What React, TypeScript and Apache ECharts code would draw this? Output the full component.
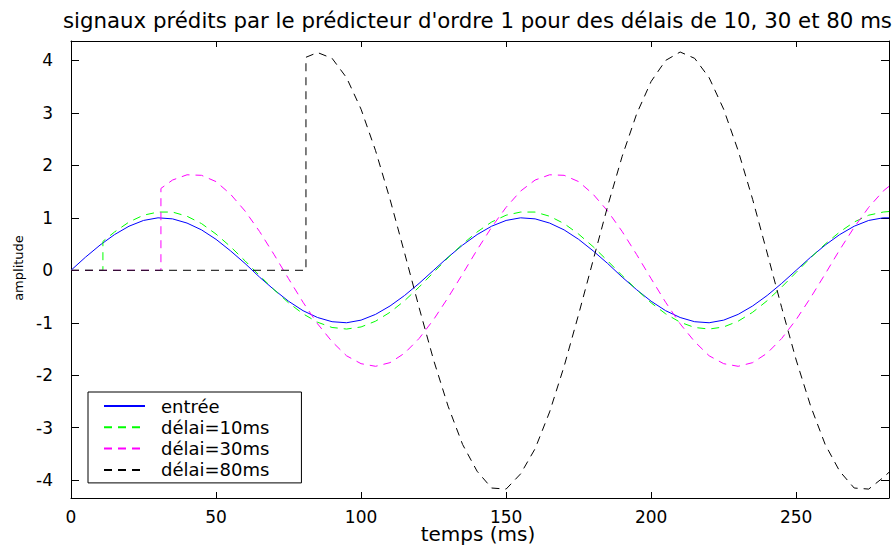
import React, { useEffect, useRef } from "react";
import * as echarts from "echarts";

// ---- data ----
const titleText =
  "signaux prédits par le prédicteur d'ordre 1 pour des délais de 10, 30 et 80 ms";
const xAxisTitle = "temps (ms)";
const yAxisTitle = "amplitude";
const seriesNames = ["entrée", "délai=10ms", "délai=30ms", "délai=80ms"];
const seriesColors = ["#0000ff", "#00ff00", "#ff00ff", "#000000"];

// time grid (ms)
const timeMs = [
  0, 5, 10, 15, 20, 25, 30, 35, 40, 45, 50, 55, 60, 65, 70, 75, 80, 85, 90, 95,
  100, 105, 110, 115, 120, 125, 130, 135, 140, 145, 150, 155, 160, 165, 170, 175,
  180, 185, 190, 195, 200, 205, 210, 215, 220, 225, 230, 235, 240, 245, 250, 255,
  260, 265, 270, 275, 280, 282,
];

const entree = [
  0, 0.25, 0.48, 0.68, 0.84, 0.95, 1.0, 0.98, 0.9, 0.77, 0.59, 0.37, 0.13,
  -0.13, -0.37, -0.59, -0.77, -0.9, -0.98, -1.0, -0.95, -0.84, -0.68, -0.48, -0.25,
  0, 0.25, 0.48, 0.68, 0.84, 0.95, 1.0, 0.98, 0.9, 0.77, 0.59, 0.37, 0.13,
  -0.13, -0.37, -0.59, -0.77, -0.9, -0.98, -1.0, -0.95, -0.84, -0.68, -0.48, -0.25,
  0, 0.25, 0.48, 0.68, 0.84, 0.95, 1.0, 1.0,
];

// predicted signals: zero until the delay, jump, then follow the grid
const delai10Time = [0, 11, 11, ...timeMs.slice(3)];
const delai10 = [
  0, 0, 0.55,
  0.73, 0.92, 1.05, 1.11, 1.11, 1.03, 0.89, 0.69, 0.45, 0.18, -0.1, -0.37, -0.62,
  -0.83, -0.99, -1.09, -1.12, -1.08, -0.97, -0.8, -0.58, -0.32,
  -0.04, 0.24, 0.5,
  0.73, 0.92, 1.05, 1.11, 1.11, 1.03, 0.89, 0.69, 0.45, 0.18, -0.1, -0.37, -0.62,
  -0.83, -0.99, -1.09, -1.12, -1.08, -0.97, -0.8, -0.58, -0.32,
  -0.04, 0.24, 0.5, 0.73, 0.92, 1.05, 1.11, 1.12,
];

const delai30Time = [0, 31, 31, ...timeMs.slice(7)];
const delai30 = [
  0, 0, 1.56,
  1.72, 1.82, 1.81, 1.69, 1.45, 1.13, 0.74, 0.3, -0.16, -0.61, -1.02, -1.36, -1.63,
  -1.78, -1.83, -1.76, -1.58, -1.3, -0.94, -0.52, -0.07, 0.39, 0.82, 1.2, 1.51,
  1.72, 1.82, 1.81, 1.69, 1.45, 1.13, 0.74, 0.3, -0.16, -0.61, -1.02, -1.36, -1.63,
  -1.78, -1.83, -1.76, -1.58, -1.3, -0.94, -0.52, -0.07, 0.39, 0.82, 1.2, 1.51,
  1.6,
];

const delai80Time = [0, 81, 81, ...timeMs.slice(17)];
const delai80 = [
  0, 0, 4.06,
  4.15, 4.04, 3.67, 3.07, 2.28, 1.35, 0.33, -0.71, -1.71, -2.59, -3.32, -3.83,
  -4.15, -4.17, -3.88, -3.4, -2.7, -1.83, -0.84, 0.19, 1.22, 2.17, 2.98, 3.6, 4.0,
  4.16, 4.04, 3.67, 3.07, 2.28, 1.35, 0.33, -0.71, -1.71, -2.59, -3.32, -3.83,
  -4.15, -4.17, -3.95,
  -3.85,
];

const xMin = 0;
const xMax = 282;
const yMin = -4.34;
const yMax = 4.37;

const FONT = "'DejaVu Sans', sans-serif";

const pairs = (ts: number[], ys: number[]) => ts.map((t, i) => [t, ys[i]]);

const seriesData = [
  pairs(timeMs, entree),
  pairs(delai10Time, delai10),
  pairs(delai30Time, delai30),
  pairs(delai80Time, delai80),
];

const intFormatter = (v: number) =>
  Math.abs(v - Math.round(v)) < 1e-6 ? String(Math.round(v)) : "";
const tick50Formatter = (v: number) =>
  Math.abs(v / 50 - Math.round(v / 50)) < 1e-6 ? String(Math.round(v)) : "";

function buildOption(): echarts.EChartsCoreOption {
  const axisLine = { show: true, onZero: false, lineStyle: { color: "#000", width: 1 } };
  return {
    animation: false,
    backgroundColor: "#ffffff",
    title: {
      text: titleText,
      left: 58,
      top: 5,
      textStyle: { fontFamily: FONT, fontSize: 21.3, fontWeight: "normal", color: "#000" },
    },
    grid: {
      left: 71,
      right: 7,
      top: 41,
      bottom: 48,
      containLabel: false,
      outerBoundsMode: "none",
    },
    graphic: [
      {
        type: "text",
        x: 18,
        y: 268,
        rotation: Math.PI / 2,
        style: {
          text: yAxisTitle,
          fontFamily: FONT,
          fontSize: 13,
          fill: "#000",
          align: "center",
          verticalAlign: "middle",
        },
      },
      {
        type: "text",
        x: 478,
        y: 534,
        style: {
          text: xAxisTitle,
          fontFamily: FONT,
          fontSize: 20,
          fill: "#000",
          align: "center",
          verticalAlign: "middle",
        },
      },
    ],
    legend: {
      orient: "vertical",
      left: 88,
      top: 392,
      backgroundColor: "#ffffff",
      borderColor: "#000",
      borderWidth: 1,
      borderRadius: 0,
      padding: [4, 32, 3, 15],
      itemGap: 1.3,
      itemWidth: 41,
      itemHeight: 14,
      selectedMode: false,
      data: seriesNames,
      itemStyle: { color: "rgba(0,0,0,0)", borderWidth: 0, opacity: 0 },
      textStyle: {
        fontFamily: FONT,
        fontSize: 18,
        lineHeight: 20,
        color: "#000",
        padding: [0, 0, 0, 11],
      },
    },
    xAxis: [
      {
        type: "value",
        position: "bottom",
        min: xMin,
        max: xMax,
        splitNumber: 6,
        axisLine,
        axisTick: { show: true, inside: true, length: 6, lineStyle: { color: "#000" } },
        axisLabel: {
          color: "#000",
          fontFamily: FONT,
          fontSize: 17,
          margin: 10,
          showMaxLabel: false,
          formatter: tick50Formatter,
        },
        splitLine: { show: false },
      },
      {
        type: "value",
        position: "top",
        min: xMin,
        max: xMax,
        splitNumber: 6,
        axisLine,
        axisTick: { show: true, inside: true, length: 6, lineStyle: { color: "#000" } },
        axisLabel: { show: false },
        splitLine: { show: false },
      },
    ],
    yAxis: [
      {
        type: "value",
        position: "left",
        min: yMin,
        max: yMax,
        splitNumber: 8,
        axisLine,
        axisTick: { show: true, inside: true, length: 8, lineStyle: { color: "#000" } },
        axisLabel: {
          color: "#000",
          fontFamily: FONT,
          fontSize: 17,
          margin: 18,
          showMinLabel: false,
          showMaxLabel: false,
          formatter: intFormatter,
        },
        splitLine: { show: false },
      },
      {
        type: "value",
        position: "right",
        min: yMin,
        max: yMax,
        splitNumber: 8,
        axisLine,
        axisTick: { show: true, inside: true, length: 8, lineStyle: { color: "#000" } },
        axisLabel: { show: false },
        splitLine: { show: false },
      },
    ],
    series: seriesNames.map((name, i) => ({
      name,
      type: "line",
      xAxisIndex: 0,
      yAxisIndex: 0,
      data: seriesData[i],
      symbol: "none",
      showSymbol: false,
      smooth: false,
      color: seriesColors[i],
      lineStyle: {
        color: seriesColors[i],
        width: 1,
        type: i === 0 ? "solid" : [8, 6],
      },
      z: 2 + i,
    })),
  };
}

export default function App() {
  const ref = useRef<HTMLDivElement>(null);
  useEffect(() => {
    if (!ref.current) return;
    const chart = echarts.init(ref.current, null, { renderer: "svg" });
    chart.setOption(buildOption());
    return () => chart.dispose();
  }, []);
  return (
    <div
      ref={ref}
      style={{ position: "absolute", left: 0, top: 0, width: 896, height: 546, background: "#fff" }}
    />
  );
}
